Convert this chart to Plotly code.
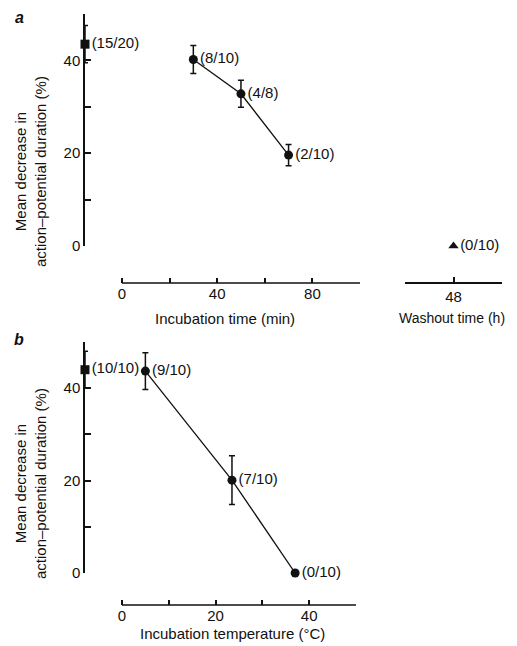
import plotly.graph_objects as go

# ---------------- data ----------------
# Panel a: incubation time course
incub_time = [30, 50, 70]
incub_mean = [40.2, 32.8, 19.6]
incub_err = [3.0, 2.9, 2.3]
incub_labels = ["(8/10)", "(4/8)", "(2/10)"]

ctrl_a_x = [-15.5]
ctrl_a_mean = [43.5]
ctrl_a_err = [4.0]
ctrl_a_labels = ["(15/20)"]

wash_time = [48]
wash_mean = [0]
wash_labels = ["(0/10)"]

# Panel b: incubation temperature
temp = [5, 23.5, 37]
temp_mean = [43.7, 20.1, 0]
temp_err = [4.0, 5.3, 0]
temp_labels = ["(9/10)", "(7/10)", "(0/10)"]

ctrl_b_x = [-7.9]
ctrl_b_mean = [44.0]
ctrl_b_err = [4.0]
ctrl_b_labels = ["(10/10)"]

# tick labels
y_ticks = [0, 10, 20, 30, 40, 50]
y_ticktext = ["0", "", "20", "", "40", ""]
a_xticks = [0, 20, 40, 60, 80, 100]
a_xticktext = ["0", "", "40", "", "80", ""]
w_xticks = [44, 48, 52]
w_xticktext = ["", "48", ""]
b_xticks = [0, 10, 20, 30, 40, 50]
b_xticktext = ["0", "", "20", "", "40", ""]

# ---------------- layout helpers ----------------
W, H = 517, 646
OFF = 8  # page body margin compensation
def px(x):
    return (x - OFF) / W
def py(y):
    return 1 - (y - OFF) / H

INK = "#111111"
FONT = "Liberation Sans, Arial, Helvetica, sans-serif"
FS = 15

def marker_trace(x, y, err, labels, symbol, size, xa, ya, mode="markers+text"):
    return go.Scatter(
        x=x, y=y, mode=mode, xaxis=xa, yaxis=ya,
        marker=dict(symbol=symbol, size=size, color=INK),
        line=dict(color=INK, width=1.3),
        error_y=dict(type="data", array=err, visible=True,
                     color=INK, thickness=1.5, width=3) if err is not None else None,
        text=labels, textposition="middle right",
        textfont=dict(family=FONT, size=FS, color=INK),
        cliponaxis=False, showlegend=False, hoverinfo="skip",
    )

fig = go.Figure()
fig.add_trace(marker_trace(incub_time, incub_mean, incub_err, incub_labels,
                           "circle", 9, "x", "y", mode="lines+markers+text"))
fig.add_trace(marker_trace(ctrl_a_x, ctrl_a_mean, ctrl_a_err, ctrl_a_labels,
                           "square", 9, "x", "y"))
fig.add_trace(marker_trace(wash_time, wash_mean, None, wash_labels,
                           "triangle-up", 9, "x2", "y"))
fig.add_trace(marker_trace(temp, temp_mean, temp_err, temp_labels,
                           "circle", 9, "x3", "y3", mode="lines+markers+text"))
fig.add_trace(marker_trace(ctrl_b_x, ctrl_b_mean, ctrl_b_err, ctrl_b_labels,
                           "square", 9, "x3", "y3"))

def ax(**kw):
    base = dict(
        showgrid=False, zeroline=False, ticks="inside", ticklen=6, tickwidth=1.5,
        tickcolor=INK, linecolor=INK, linewidth=1.5, tickmode="array",
        tickfont=dict(family=FONT, size=FS, color=INK), fixedrange=True,
    )
    base.update(kw)
    return base

a_axis_y = py(283)
b_axis_y = py(605)

fig.update_layout(
    width=W, height=H, margin=dict(l=0, r=0, t=0, b=0, autoexpand=False),
    paper_bgcolor="white", plot_bgcolor="rgba(0,0,0,0)",
    font=dict(family=FONT, size=FS, color=INK),
    xaxis=ax(domain=[px(85), px(360)], range=[ctrl_a_x[0], 100], anchor="free",
             position=a_axis_y, showline=False, tickvals=a_xticks,
             ticktext=a_xticktext, ticklen=5),
    yaxis=ax(domain=[py(246), py(14)], range=[0, 50], anchor="x", showline=True,
             tickvals=y_ticks, ticktext=y_ticktext),
    xaxis2=ax(domain=[px(405), px(502)], range=[44, 52], anchor="free",
              position=a_axis_y, showline=True, tickvals=w_xticks,
              ticktext=w_xticktext, ticklen=5),
    xaxis3=ax(domain=[px(85), px(356)], range=[ctrl_b_x[0], 50], anchor="free",
              position=b_axis_y, showline=False, tickvals=b_xticks,
              ticktext=b_xticktext, ticklen=5),
    yaxis3=ax(domain=[py(573), py(342)], range=[0, 50], anchor="x3", showline=True,
              tickvals=y_ticks, ticktext=y_ticktext),
)

# x-axis lines that start at zero (offset axes)
fig.add_shape(type="line", xref="x", yref="paper", x0=0, x1=100,
              y0=a_axis_y, y1=a_axis_y, line=dict(color=INK, width=1.5))
fig.add_shape(type="line", xref="x3", yref="paper", x0=0, x1=50,
              y0=b_axis_y, y1=b_axis_y, line=dict(color=INK, width=1.5))

def note(text, x, y, size=FS, angle=0):
    return dict(text=text, x=px(x), y=py(y), xref="paper", yref="paper",
                xanchor="center", yanchor="middle", textangle=angle,
                showarrow=False, font=dict(family=FONT, size=size, color=INK))

ytitle = "Mean decrease in<br>action\u2013potential duration (%)"
fig.update_layout(annotations=[
    note("<b><i>a</i></b>", 19, 17, size=16),
    note("<b><i>b</i></b>", 19, 339, size=16),
    note(ytitle, 30, 172, angle=-90),
    note(ytitle, 30, 484, angle=-90),
    note("Incubation time (min)", 225, 318),
    note("Washout time (h)", 452, 318, size=14),
    note("Incubation temperature (\u00b0C)", 232, 633),
])

fig.write_html("out.html")
